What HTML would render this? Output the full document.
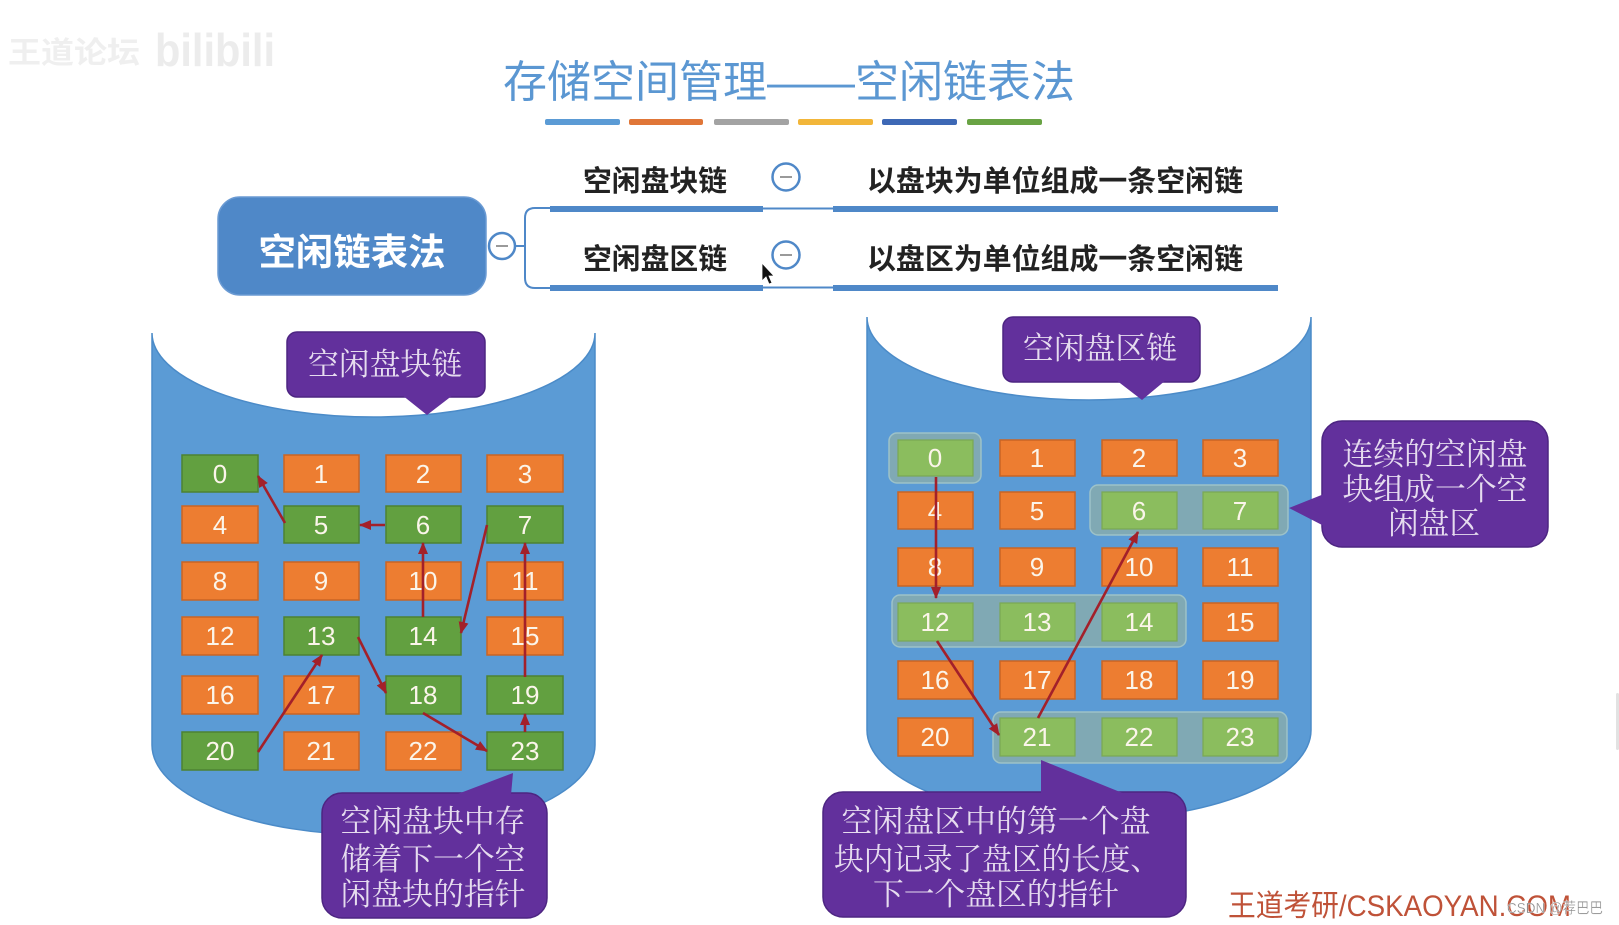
<!DOCTYPE html>
<html>
<head>
<meta charset="utf-8">
<style>
  html,body{margin:0;padding:0;background:#ffffff;}
  body{width:1619px;height:925px;overflow:hidden;}
  svg{display:block;}
  .cjk{font-family:"Liberation Sans","Noto Sans CJK SC",sans-serif;}
  .ser{font-family:"Liberation Serif","Noto Serif CJK SC","Noto Sans CJK SC",serif;}
  .num{font-family:"Liberation Sans","DejaVu Sans",sans-serif;}
</style>
</head>
<body>
<svg width="1619" height="925" viewBox="0 0 1619 925" xmlns="http://www.w3.org/2000/svg">
  <defs>
    <marker id="ah" markerUnits="userSpaceOnUse" markerWidth="12" markerHeight="12" refX="11" refY="6" orient="auto">
      <path d="M0,1 L12,6 L0,11 z" fill="#a3202a"/>
    </marker>
  </defs>

  <rect x="0" y="0" width="1619" height="925" fill="#ffffff"/>

  <!-- top-left faint watermark -->
  <text x="8" y="63" class="cjk" font-size="30" fill="#efefef" font-weight="700" textLength="132" lengthAdjust="spacingAndGlyphs">王道论坛</text>
  <text x="155" y="66" class="num" font-size="46" fill="#ececec" font-weight="700" textLength="120" lengthAdjust="spacingAndGlyphs">bilibili</text>

  <!-- Title -->
  <text x="789" y="97" text-anchor="middle" class="cjk" font-size="44" fill="#5b97d2" textLength="572" lengthAdjust="spacingAndGlyphs">存储空间管理——空闲链表法</text>

  <!-- color bars -->
  <rect x="545" y="119" width="75" height="6" rx="2" fill="#5b9bd5"/>
  <rect x="629" y="119" width="74" height="6" rx="2" fill="#e07638"/>
  <rect x="714" y="119" width="75" height="6" rx="2" fill="#a3a3a3"/>
  <rect x="798" y="119" width="75" height="6" rx="2" fill="#f2b63a"/>
  <rect x="882" y="119" width="75" height="6" rx="2" fill="#3d68b5"/>
  <rect x="967" y="119" width="75" height="6" rx="2" fill="#69a344"/>

  <!-- Mind map -->
  <rect x="218" y="197" width="268" height="98" rx="22" fill="#4f88c8" stroke="#6a9ad3" stroke-width="1.5"/>
  <text x="352" y="265" text-anchor="middle" class="cjk" font-size="37" font-weight="700" fill="#ffffff" textLength="187" lengthAdjust="spacingAndGlyphs">空闲链表法</text>

  <!-- bracket -->
  <path d="M516,246 L525,246 M550,208 L535,208 Q525,208 525,218 L525,278 Q525,288 535,288 L550,288" fill="none" stroke="#4f88c8" stroke-width="2"/>
  <circle cx="502" cy="246" r="13" fill="#ffffff" stroke="#4f88c8" stroke-width="2.5"/>
  <line x1="496" y1="246" x2="508" y2="246" stroke="#9a9a9a" stroke-width="2"/>

  <!-- branch 1 -->
  <text x="655" y="191" text-anchor="middle" class="cjk" font-size="29" font-weight="700" fill="#222222" textLength="144" lengthAdjust="spacingAndGlyphs">空闲盘块链</text>
  <rect x="550" y="206" width="213" height="6" fill="#4f88c8"/>
  <line x1="763" y1="208.5" x2="833" y2="208.5" stroke="#4f88c8" stroke-width="2"/>
  <rect x="833" y="206" width="445" height="6" fill="#4f88c8"/>
  <circle cx="786" cy="177" r="13.5" fill="#ffffff" stroke="#4f88c8" stroke-width="2.5"/>
  <line x1="780" y1="177" x2="792" y2="177" stroke="#9a9a9a" stroke-width="2"/>
  <text x="1055" y="191" text-anchor="middle" class="cjk" font-size="29" font-weight="700" fill="#222222" textLength="376" lengthAdjust="spacingAndGlyphs">以盘块为单位组成一条空闲链</text>

  <!-- branch 2 -->
  <text x="655" y="269" text-anchor="middle" class="cjk" font-size="29" font-weight="700" fill="#222222" textLength="144" lengthAdjust="spacingAndGlyphs">空闲盘区链</text>
  <rect x="550" y="285" width="213" height="6" fill="#4f88c8"/>
  <line x1="763" y1="287.5" x2="833" y2="287.5" stroke="#4f88c8" stroke-width="2"/>
  <rect x="833" y="285" width="445" height="6" fill="#4f88c8"/>
  <circle cx="786" cy="255" r="13.5" fill="#ffffff" stroke="#4f88c8" stroke-width="2.5"/>
  <line x1="780" y1="255" x2="792" y2="255" stroke="#9a9a9a" stroke-width="2"/>
  <text x="1055" y="269" text-anchor="middle" class="cjk" font-size="29" font-weight="700" fill="#222222" textLength="376" lengthAdjust="spacingAndGlyphs">以盘区为单位组成一条空闲链</text>

  <!-- mouse cursor -->
  <path d="M762,263 L762,281 L766,277 L769,284 L772,283 L769,276 L774,276 Z" fill="#111111" stroke="#ffffff" stroke-width="0.8"/>

  <!-- LEFT CYLINDER -->
  <path d="M152,333 A221.5,84 0 0 0 595,333 L595,745 A221.5,90 0 0 1 152,745 Z" fill="#5b9bd5" stroke="#4b8bc8" stroke-width="1.5"/>

  <!-- left blocks -->
  <g class="num" font-size="26" text-anchor="middle" fill="#fbf5ea">
    <!-- row 0 -->
    <rect x="182" y="455" width="76" height="37" fill="#62a040" stroke="#4d8232" stroke-width="1.5"/>
    <rect x="284" y="455" width="75" height="37" fill="#ed7d31" stroke="#c96524" stroke-width="1.5"/>
    <rect x="386" y="455" width="75" height="37" fill="#ed7d31" stroke="#c96524" stroke-width="1.5"/>
    <rect x="487" y="455" width="76" height="37" fill="#ed7d31" stroke="#c96524" stroke-width="1.5"/>
    <text x="220" y="483">0</text><text x="321" y="483">1</text><text x="423" y="483">2</text><text x="525" y="483">3</text>
    <!-- row 1 -->
    <rect x="182" y="506" width="76" height="37" fill="#ed7d31" stroke="#c96524" stroke-width="1.5"/>
    <rect x="284" y="506" width="75" height="37" fill="#62a040" stroke="#4d8232" stroke-width="1.5"/>
    <rect x="386" y="506" width="75" height="37" fill="#62a040" stroke="#4d8232" stroke-width="1.5"/>
    <rect x="487" y="506" width="76" height="37" fill="#62a040" stroke="#4d8232" stroke-width="1.5"/>
    <text x="220" y="534">4</text><text x="321" y="534">5</text><text x="423" y="534">6</text><text x="525" y="534">7</text>
    <!-- row 2 -->
    <rect x="182" y="562" width="76" height="38" fill="#ed7d31" stroke="#c96524" stroke-width="1.5"/>
    <rect x="284" y="562" width="75" height="38" fill="#ed7d31" stroke="#c96524" stroke-width="1.5"/>
    <rect x="386" y="562" width="75" height="38" fill="#ed7d31" stroke="#c96524" stroke-width="1.5"/>
    <rect x="487" y="562" width="76" height="38" fill="#ed7d31" stroke="#c96524" stroke-width="1.5"/>
    <text x="220" y="590">8</text><text x="321" y="590">9</text><text x="423" y="590">10</text><text x="525" y="590">11</text>
    <!-- row 3 -->
    <rect x="182" y="617" width="76" height="38" fill="#ed7d31" stroke="#c96524" stroke-width="1.5"/>
    <rect x="284" y="617" width="75" height="38" fill="#62a040" stroke="#4d8232" stroke-width="1.5"/>
    <rect x="386" y="617" width="75" height="38" fill="#62a040" stroke="#4d8232" stroke-width="1.5"/>
    <rect x="487" y="617" width="76" height="38" fill="#ed7d31" stroke="#c96524" stroke-width="1.5"/>
    <text x="220" y="645">12</text><text x="321" y="645">13</text><text x="423" y="645">14</text><text x="525" y="645">15</text>
    <!-- row 4 -->
    <rect x="182" y="676" width="76" height="38" fill="#ed7d31" stroke="#c96524" stroke-width="1.5"/>
    <rect x="284" y="676" width="75" height="38" fill="#ed7d31" stroke="#c96524" stroke-width="1.5"/>
    <rect x="386" y="676" width="75" height="38" fill="#62a040" stroke="#4d8232" stroke-width="1.5"/>
    <rect x="487" y="676" width="76" height="38" fill="#62a040" stroke="#4d8232" stroke-width="1.5"/>
    <text x="220" y="704">16</text><text x="321" y="704">17</text><text x="423" y="704">18</text><text x="525" y="704">19</text>
    <!-- row 5 -->
    <rect x="182" y="732" width="76" height="38" fill="#62a040" stroke="#4d8232" stroke-width="1.5"/>
    <rect x="284" y="732" width="75" height="38" fill="#ed7d31" stroke="#c96524" stroke-width="1.5"/>
    <rect x="386" y="732" width="75" height="38" fill="#ed7d31" stroke="#c96524" stroke-width="1.5"/>
    <rect x="487" y="732" width="76" height="38" fill="#62a040" stroke="#4d8232" stroke-width="1.5"/>
    <text x="220" y="760">20</text><text x="321" y="760">21</text><text x="423" y="760">22</text><text x="525" y="760">23</text>
  </g>

  <!-- left arrows -->
  <g stroke="#a3202a" stroke-width="2.6" fill="none" marker-end="url(#ah)">
    <line x1="285" y1="523" x2="258" y2="476"/>
    <line x1="385" y1="525" x2="360" y2="525"/>
    <line x1="423" y1="617" x2="423" y2="543"/>
    <line x1="487" y1="525" x2="461" y2="633"/>
    <line x1="525" y1="677" x2="525" y2="543"/>
    <line x1="525" y1="732" x2="525" y2="714"/>
    <line x1="423" y1="713" x2="487" y2="751"/>
    <line x1="358" y1="637" x2="386" y2="693"/>
    <line x1="258" y1="752" x2="322" y2="655"/>
  </g>

  <!-- left top callout -->
  <rect x="287" y="332" width="198" height="65" rx="10" fill="#62309c" stroke="#4d2582" stroke-width="1.5"/>
  <polygon points="402,395 453,395 427,415" fill="#62309c"/>
  <text x="385" y="375" text-anchor="middle" class="ser" font-size="31" fill="#e6dcef" textLength="154" lengthAdjust="spacingAndGlyphs">空闲盘块链</text>

  <!-- left bottom callout -->
  <rect x="322" y="793" width="225" height="125" rx="20" fill="#62309c" stroke="#4d2582" stroke-width="1.5"/>
  <polygon points="455,795 511,795 513,773" fill="#62309c"/>
  <g class="ser" font-size="31" fill="#e6dcef" text-anchor="middle">
    <text x="433" y="832" textLength="185" lengthAdjust="spacingAndGlyphs">空闲盘块中存</text>
    <text x="433" y="870" textLength="185" lengthAdjust="spacingAndGlyphs">储着下一个空</text>
    <text x="433" y="905" textLength="185" lengthAdjust="spacingAndGlyphs">闲盘块的指针</text>
  </g>

  <!-- RIGHT CYLINDER -->
  <path d="M867,317 A222,83 0 0 0 1311,317 L1311,730 A222,90 0 0 1 867,730 Z" fill="#5b9bd5" stroke="#4b8bc8" stroke-width="1.5"/>

  <!-- group highlights -->
  <g fill="#80a9b4" stroke="#9dc2c8" stroke-width="1.5">
    <rect x="889" y="433" width="92" height="50" rx="8"/>
    <rect x="1090" y="485" width="198" height="50" rx="8"/>
    <rect x="892" y="595" width="294" height="52" rx="8"/>
    <rect x="993" y="712" width="294" height="51" rx="8"/>
  </g>

  <g class="num" font-size="26" text-anchor="middle" fill="#fbf5ea">
    <!-- row 0 -->
    <rect x="898" y="440" width="75" height="36" fill="#8bbd5e" stroke="#7aa853" stroke-width="1.2"/>
    <rect x="1000" y="440" width="75" height="36" fill="#ed7d31" stroke="#c96524" stroke-width="1.5"/>
    <rect x="1102" y="440" width="75" height="36" fill="#ed7d31" stroke="#c96524" stroke-width="1.5"/>
    <rect x="1203" y="440" width="75" height="36" fill="#ed7d31" stroke="#c96524" stroke-width="1.5"/>
    <text x="935" y="467">0</text><text x="1037" y="467">1</text><text x="1139" y="467">2</text><text x="1240" y="467">3</text>
    <!-- row 1 -->
    <rect x="898" y="492" width="75" height="37" fill="#ed7d31" stroke="#c96524" stroke-width="1.5"/>
    <rect x="1000" y="492" width="75" height="37" fill="#ed7d31" stroke="#c96524" stroke-width="1.5"/>
    <rect x="1102" y="492" width="75" height="37" fill="#8bbd5e" stroke="#7aa853" stroke-width="1.2"/>
    <rect x="1203" y="492" width="75" height="37" fill="#8bbd5e" stroke="#7aa853" stroke-width="1.2"/>
    <text x="935" y="520">4</text><text x="1037" y="520">5</text><text x="1139" y="520">6</text><text x="1240" y="520">7</text>
    <!-- row 2 -->
    <rect x="898" y="548" width="75" height="38" fill="#ed7d31" stroke="#c96524" stroke-width="1.5"/>
    <rect x="1000" y="548" width="75" height="38" fill="#ed7d31" stroke="#c96524" stroke-width="1.5"/>
    <rect x="1102" y="548" width="75" height="38" fill="#ed7d31" stroke="#c96524" stroke-width="1.5"/>
    <rect x="1203" y="548" width="75" height="38" fill="#ed7d31" stroke="#c96524" stroke-width="1.5"/>
    <text x="935" y="576">8</text><text x="1037" y="576">9</text><text x="1139" y="576">10</text><text x="1240" y="576">11</text>
    <!-- row 3 -->
    <rect x="898" y="603" width="75" height="38" fill="#8bbd5e" stroke="#7aa853" stroke-width="1.2"/>
    <rect x="1000" y="603" width="75" height="38" fill="#8bbd5e" stroke="#7aa853" stroke-width="1.2"/>
    <rect x="1102" y="603" width="75" height="38" fill="#8bbd5e" stroke="#7aa853" stroke-width="1.2"/>
    <rect x="1203" y="603" width="75" height="38" fill="#ed7d31" stroke="#c96524" stroke-width="1.5"/>
    <text x="935" y="631">12</text><text x="1037" y="631">13</text><text x="1139" y="631">14</text><text x="1240" y="631">15</text>
    <!-- row 4 -->
    <rect x="898" y="661" width="75" height="38" fill="#ed7d31" stroke="#c96524" stroke-width="1.5"/>
    <rect x="1000" y="661" width="75" height="38" fill="#ed7d31" stroke="#c96524" stroke-width="1.5"/>
    <rect x="1102" y="661" width="75" height="38" fill="#ed7d31" stroke="#c96524" stroke-width="1.5"/>
    <rect x="1203" y="661" width="75" height="38" fill="#ed7d31" stroke="#c96524" stroke-width="1.5"/>
    <text x="935" y="689">16</text><text x="1037" y="689">17</text><text x="1139" y="689">18</text><text x="1240" y="689">19</text>
    <!-- row 5 -->
    <rect x="898" y="718" width="75" height="38" fill="#ed7d31" stroke="#c96524" stroke-width="1.5"/>
    <rect x="1000" y="718" width="75" height="38" fill="#8bbd5e" stroke="#7aa853" stroke-width="1.2"/>
    <rect x="1102" y="718" width="75" height="38" fill="#8bbd5e" stroke="#7aa853" stroke-width="1.2"/>
    <rect x="1203" y="718" width="75" height="38" fill="#8bbd5e" stroke="#7aa853" stroke-width="1.2"/>
    <text x="935" y="746">20</text><text x="1037" y="746">21</text><text x="1139" y="746">22</text><text x="1240" y="746">23</text>
  </g>

  <!-- right arrows -->
  <g stroke="#a3202a" stroke-width="2.6" fill="none" marker-end="url(#ah)">
    <line x1="936" y1="477" x2="936" y2="598"/>
    <line x1="937" y1="641" x2="999" y2="735"/>
    <line x1="1038" y1="718" x2="1138" y2="532"/>
  </g>

  <!-- right top callout -->
  <rect x="1003" y="317" width="197" height="65" rx="10" fill="#62309c" stroke="#4d2582" stroke-width="1.5"/>
  <polygon points="1116,380 1166,380 1142,400" fill="#62309c"/>
  <text x="1100" y="359" text-anchor="middle" class="ser" font-size="31" fill="#e6dcef" textLength="154" lengthAdjust="spacingAndGlyphs">空闲盘区链</text>

  <!-- right side callout -->
  <rect x="1322" y="421" width="226" height="126" rx="20" fill="#62309c" stroke="#4d2582" stroke-width="1.5"/>
  <polygon points="1324,494 1324,526 1289,508" fill="#62309c"/>
  <g class="ser" font-size="31" fill="#e6dcef" text-anchor="middle">
    <text x="1435" y="465" textLength="185" lengthAdjust="spacingAndGlyphs">连续的空闲盘</text>
    <text x="1435" y="500" textLength="185" lengthAdjust="spacingAndGlyphs">块组成一个空</text>
    <text x="1434" y="534" textLength="92" lengthAdjust="spacingAndGlyphs">闲盘区</text>
  </g>

  <!-- right bottom callout -->
  <rect x="823" y="792" width="363" height="125" rx="20" fill="#62309c" stroke="#4d2582" stroke-width="1.5"/>
  <polygon points="1041,794 1125,794 1041,760" fill="#62309c"/>
  <g class="ser" font-size="31" fill="#e6dcef" text-anchor="middle">
    <text x="996" y="832" textLength="309" lengthAdjust="spacingAndGlyphs">空闲盘区中的第一个盘</text>
    <text x="997" y="870" textLength="326" lengthAdjust="spacingAndGlyphs">块内记录了盘区的长度、</text>
    <text x="996" y="905" textLength="246" lengthAdjust="spacingAndGlyphs">下一个盘区的指针</text>
  </g>

  <!-- bottom-right logo text -->
  <text x="1228" y="916" class="cjk" font-size="30" fill="#bf5238" textLength="343" lengthAdjust="spacingAndGlyphs">王道考研/CSKAOYAN.COM</text>
  <text x="1507" y="913" class="cjk" font-size="15" fill="#8a8a8a" stroke="#ffffff" stroke-width="0.3" textLength="96" lengthAdjust="spacingAndGlyphs">CSDN @荐巴巴</text>

  <!-- faint right edge mark -->
  <rect x="1616" y="693" width="3" height="57" rx="1.5" fill="#e2e2e2"/>
</svg>
</body>
</html>
